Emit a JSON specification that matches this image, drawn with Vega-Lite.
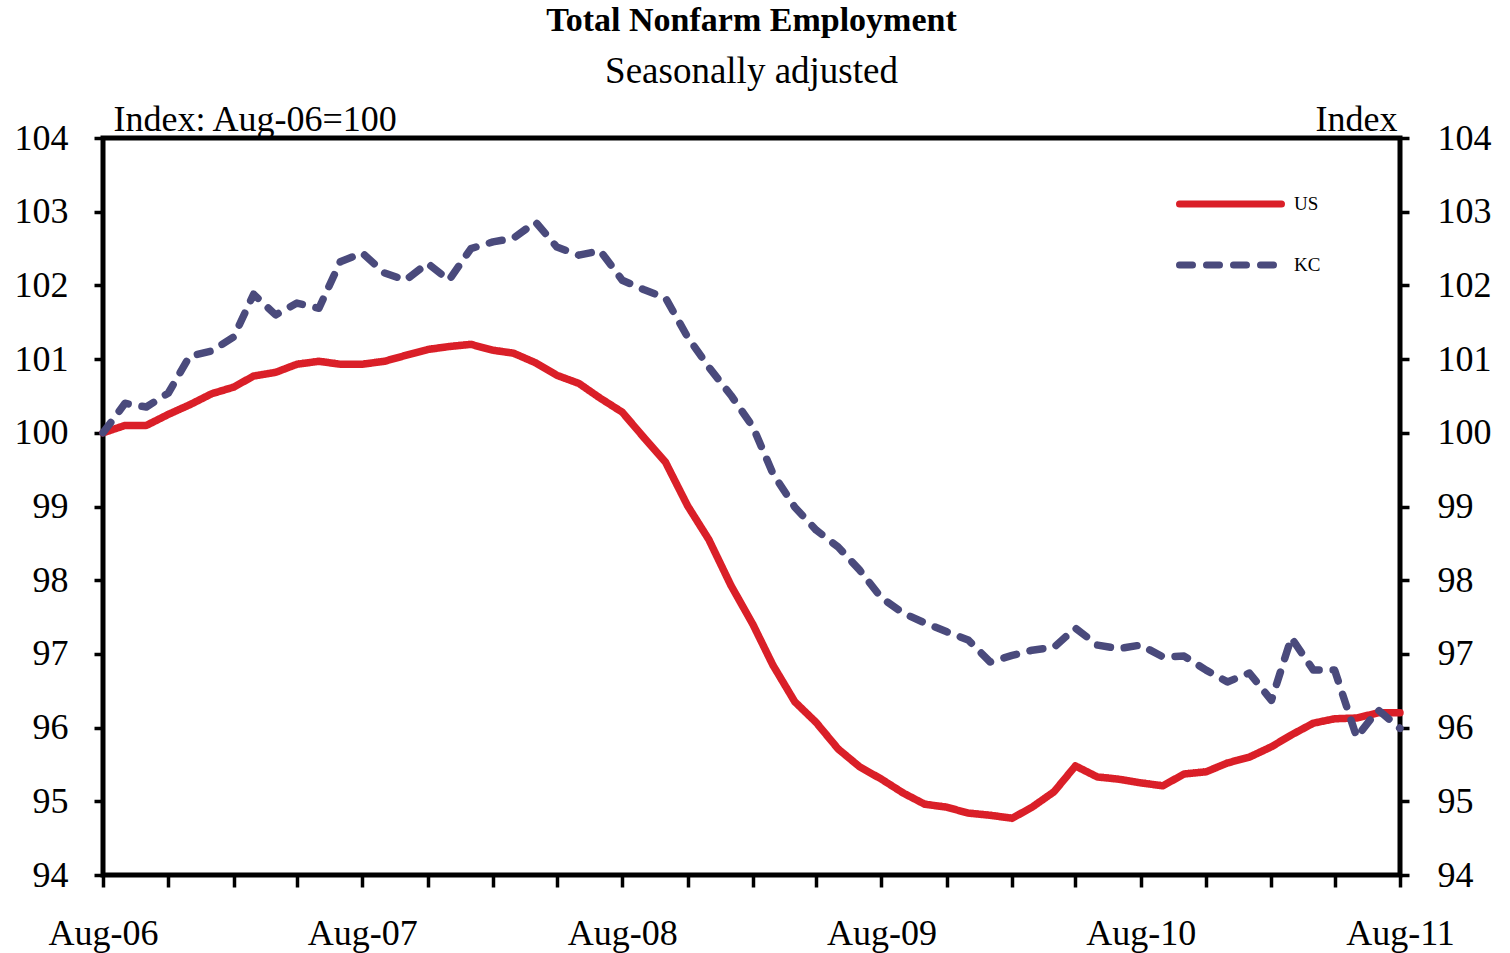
{
  "$schema": "https://vega.github.io/schema/vega-lite/v6.json",
  "width": 1297,
  "height": 737,
  "autosize": {"type": "none"},
  "padding": {"left": 103, "top": 138, "right": 110, "bottom": 78},
  "background": "white",
  "config": {
    "font": "Liberation Serif",
    "view": {"stroke": "black", "strokeWidth": 5},
    "axis": {"grid": false, "domain": false, "labelFont": "Liberation Serif", "labelFontSize": 36, "labelColor": "black", "tickColor": "black", "tickWidth": 3.5, "titleFont": "Liberation Serif", "titleFontSize": 36, "titleFontWeight": "normal", "titleColor": "black"}
  },
  "title": {
    "text": "Total Nonfarm Employment",
    "subtitle": "Seasonally adjusted",
    "anchor": "middle",
    "font": "Liberation Serif",
    "fontSize": 34,
    "fontWeight": "bold",
    "color": "black",
    "subtitleFont": "Liberation Serif",
    "subtitleFontSize": 37,
    "subtitleColor": "black",
    "subtitlePadding": 16,
    "offset": 11
  },
  "data": {
    "values": [
      {"date": "2006-08-01", "US": 100.0, "KC": 100.0},
      {"date": "2006-09-01", "US": 100.1, "KC": 100.4},
      {"date": "2006-10-01", "US": 100.1, "KC": 100.35},
      {"date": "2006-11-01", "US": 100.25, "KC": 100.54},
      {"date": "2006-12-01", "US": 100.38, "KC": 101.04},
      {"date": "2007-01-01", "US": 100.53, "KC": 101.11},
      {"date": "2007-02-01", "US": 100.62, "KC": 101.3},
      {"date": "2007-03-01", "US": 100.77, "KC": 101.88},
      {"date": "2007-04-01", "US": 100.82, "KC": 101.6},
      {"date": "2007-05-01", "US": 100.93, "KC": 101.76},
      {"date": "2007-06-01", "US": 100.97, "KC": 101.69},
      {"date": "2007-07-01", "US": 100.93, "KC": 102.32},
      {"date": "2007-08-01", "US": 100.93, "KC": 102.44},
      {"date": "2007-09-01", "US": 100.97, "KC": 102.17},
      {"date": "2007-10-01", "US": 101.05, "KC": 102.07},
      {"date": "2007-11-01", "US": 101.13, "KC": 102.3},
      {"date": "2007-12-01", "US": 101.17, "KC": 102.07},
      {"date": "2008-01-01", "US": 101.2, "KC": 102.5},
      {"date": "2008-02-01", "US": 101.12, "KC": 102.59},
      {"date": "2008-03-01", "US": 101.08, "KC": 102.64},
      {"date": "2008-04-01", "US": 100.95, "KC": 102.86},
      {"date": "2008-05-01", "US": 100.78, "KC": 102.52},
      {"date": "2008-06-01", "US": 100.67, "KC": 102.41},
      {"date": "2008-07-01", "US": 100.47, "KC": 102.47},
      {"date": "2008-08-01", "US": 100.28, "KC": 102.07},
      {"date": "2008-09-01", "US": 99.93, "KC": 101.94},
      {"date": "2008-10-01", "US": 99.6, "KC": 101.83},
      {"date": "2008-11-01", "US": 99.01, "KC": 101.3},
      {"date": "2008-12-01", "US": 98.55, "KC": 100.89},
      {"date": "2009-01-01", "US": 97.93, "KC": 100.51},
      {"date": "2009-02-01", "US": 97.4, "KC": 100.08},
      {"date": "2009-03-01", "US": 96.85, "KC": 99.45},
      {"date": "2009-04-01", "US": 96.35, "KC": 98.99},
      {"date": "2009-05-01", "US": 96.07, "KC": 98.68},
      {"date": "2009-06-01", "US": 95.71, "KC": 98.45},
      {"date": "2009-07-01", "US": 95.47, "KC": 98.14},
      {"date": "2009-08-01", "US": 95.3, "KC": 97.76},
      {"date": "2009-09-01", "US": 95.11, "KC": 97.55},
      {"date": "2009-10-01", "US": 94.96, "KC": 97.42},
      {"date": "2009-11-01", "US": 94.92, "KC": 97.3},
      {"date": "2009-12-01", "US": 94.84, "KC": 97.19},
      {"date": "2010-01-01", "US": 94.81, "KC": 96.89},
      {"date": "2010-02-01", "US": 94.77, "KC": 96.98},
      {"date": "2010-03-01", "US": 94.92, "KC": 97.05},
      {"date": "2010-04-01", "US": 95.13, "KC": 97.09},
      {"date": "2010-05-01", "US": 95.48, "KC": 97.35},
      {"date": "2010-06-01", "US": 95.33, "KC": 97.12},
      {"date": "2010-07-01", "US": 95.3, "KC": 97.07},
      {"date": "2010-08-01", "US": 95.25, "KC": 97.12},
      {"date": "2010-09-01", "US": 95.21, "KC": 96.96},
      {"date": "2010-10-01", "US": 95.37, "KC": 96.97},
      {"date": "2010-11-01", "US": 95.4, "KC": 96.78},
      {"date": "2010-12-01", "US": 95.52, "KC": 96.62},
      {"date": "2011-01-01", "US": 95.6, "KC": 96.74},
      {"date": "2011-02-01", "US": 95.74, "KC": 96.37},
      {"date": "2011-03-01", "US": 95.9, "KC": 97.22},
      {"date": "2011-04-01", "US": 96.06, "KC": 96.78},
      {"date": "2011-05-01", "US": 96.12, "KC": 96.78},
      {"date": "2011-06-01", "US": 96.13, "KC": 95.87},
      {"date": "2011-07-01", "US": 96.2, "KC": 96.24},
      {"date": "2011-08-01", "US": 96.2, "KC": 95.99}
    ]
  },
  "transform": [{"fold": ["US", "KC"], "as": ["series", "value"]}],
  "encoding": {
    "x": {
      "field": "date",
      "type": "temporal",
      "scale": {"type": "utc", "domain": [{"year": 2006, "month": 8, "date": 1, "utc": true}, {"year": 2011, "month": 8, "date": 1, "utc": true}]},
      "axis": {
        "title": null,
        "values": [
          {"year": 2006, "month": 8, "date": 1, "utc": true},
          {"year": 2006, "month": 11, "date": 1, "utc": true},
          {"year": 2007, "month": 2, "date": 1, "utc": true},
          {"year": 2007, "month": 5, "date": 1, "utc": true},
          {"year": 2007, "month": 8, "date": 1, "utc": true},
          {"year": 2007, "month": 11, "date": 1, "utc": true},
          {"year": 2008, "month": 2, "date": 1, "utc": true},
          {"year": 2008, "month": 5, "date": 1, "utc": true},
          {"year": 2008, "month": 8, "date": 1, "utc": true},
          {"year": 2008, "month": 11, "date": 1, "utc": true},
          {"year": 2009, "month": 2, "date": 1, "utc": true},
          {"year": 2009, "month": 5, "date": 1, "utc": true},
          {"year": 2009, "month": 8, "date": 1, "utc": true},
          {"year": 2009, "month": 11, "date": 1, "utc": true},
          {"year": 2010, "month": 2, "date": 1, "utc": true},
          {"year": 2010, "month": 5, "date": 1, "utc": true},
          {"year": 2010, "month": 8, "date": 1, "utc": true},
          {"year": 2010, "month": 11, "date": 1, "utc": true},
          {"year": 2011, "month": 2, "date": 1, "utc": true},
          {"year": 2011, "month": 5, "date": 1, "utc": true},
          {"year": 2011, "month": 8, "date": 1, "utc": true}
        ],
        "labelExpr": "utcmonth(datum.value) == 7 ? utcFormat(datum.value, '%b-%y') : ''",
        "tickSize": 12,
        "labelPadding": 29,
        "labelFlush": false,
        "labelOverlap": false,
        "labelBaseline": "top"
      }
    },
    "color": {
      "field": "series",
      "type": "nominal",
      "scale": {"domain": ["US", "KC"], "range": ["#DA1F28", "#4A4A7C"]},
      "legend": {
        "title": null,
        "orient": "none",
        "legendX": 1073,
        "legendY": 56,
        "symbolType": "stroke",
        "symbolSize": 10404,
        "symbolStrokeWidth": 7,
        "labelFont": "Liberation Serif",
        "labelFontSize": 19,
        "labelColor": "black",
        "labelOffset": 9,
        "clipHeight": 20,
        "rowPadding": 41,
        "padding": 0,
        "encode": {"symbols": {"update": {"strokeCap": {"value": "round"}}}}
      }
    },
    "strokeDash": {
      "field": "series",
      "type": "nominal",
      "scale": {"domain": ["US", "KC"], "range": [[1, 0], [13, 14]]},
      "legend": {
        "title": null,
        "orient": "none",
        "legendX": 1073,
        "legendY": 56,
        "symbolType": "stroke",
        "symbolSize": 10404,
        "symbolStrokeWidth": 7,
        "labelFont": "Liberation Serif",
        "labelFontSize": 19,
        "labelColor": "black",
        "labelOffset": 9,
        "clipHeight": 20,
        "rowPadding": 41,
        "padding": 0,
        "encode": {"symbols": {"update": {"strokeCap": {"value": "round"}}}}
      }
    }
  },
  "layer": [
    {
      "transform": [{"filter": "datum.series == 'US'"}],
      "mark": {"type": "line", "strokeWidth": 7.5, "strokeCap": "round", "strokeJoin": "round"},
      "encoding": {
        "y": {
          "field": "value",
          "type": "quantitative",
          "scale": {"domain": [94, 104], "nice": false, "zero": false},
          "axis": {"orient": "left", "values": [94, 95, 96, 97, 98, 99, 100, 101, 102, 103, 104], "tickSize": 9, "labelPadding": 26, "title": "Index: Aug-06=100", "titleAngle": 0, "titleAlign": "left", "titleBaseline": "alphabetic", "titleX": 10, "titleY": -8}
        }
      }
    },
    {
      "transform": [{"filter": "datum.series == 'KC'"}],
      "mark": {"type": "line", "strokeWidth": 7.5, "strokeCap": "round", "strokeJoin": "round"},
      "encoding": {
        "y": {
          "field": "value",
          "type": "quantitative",
          "scale": {"domain": [94, 104], "nice": false, "zero": false},
          "axis": {"orient": "right", "values": [94, 95, 96, 97, 98, 99, 100, 101, 102, 103, 104], "tickSize": 9, "labelPadding": 28, "title": "Index", "titleAngle": 0, "titleAlign": "right", "titleBaseline": "alphabetic", "titleX": -3, "titleY": -8}
        }
      }
    }
  ],
  "resolve": {"axis": {"y": "independent"}}
}
